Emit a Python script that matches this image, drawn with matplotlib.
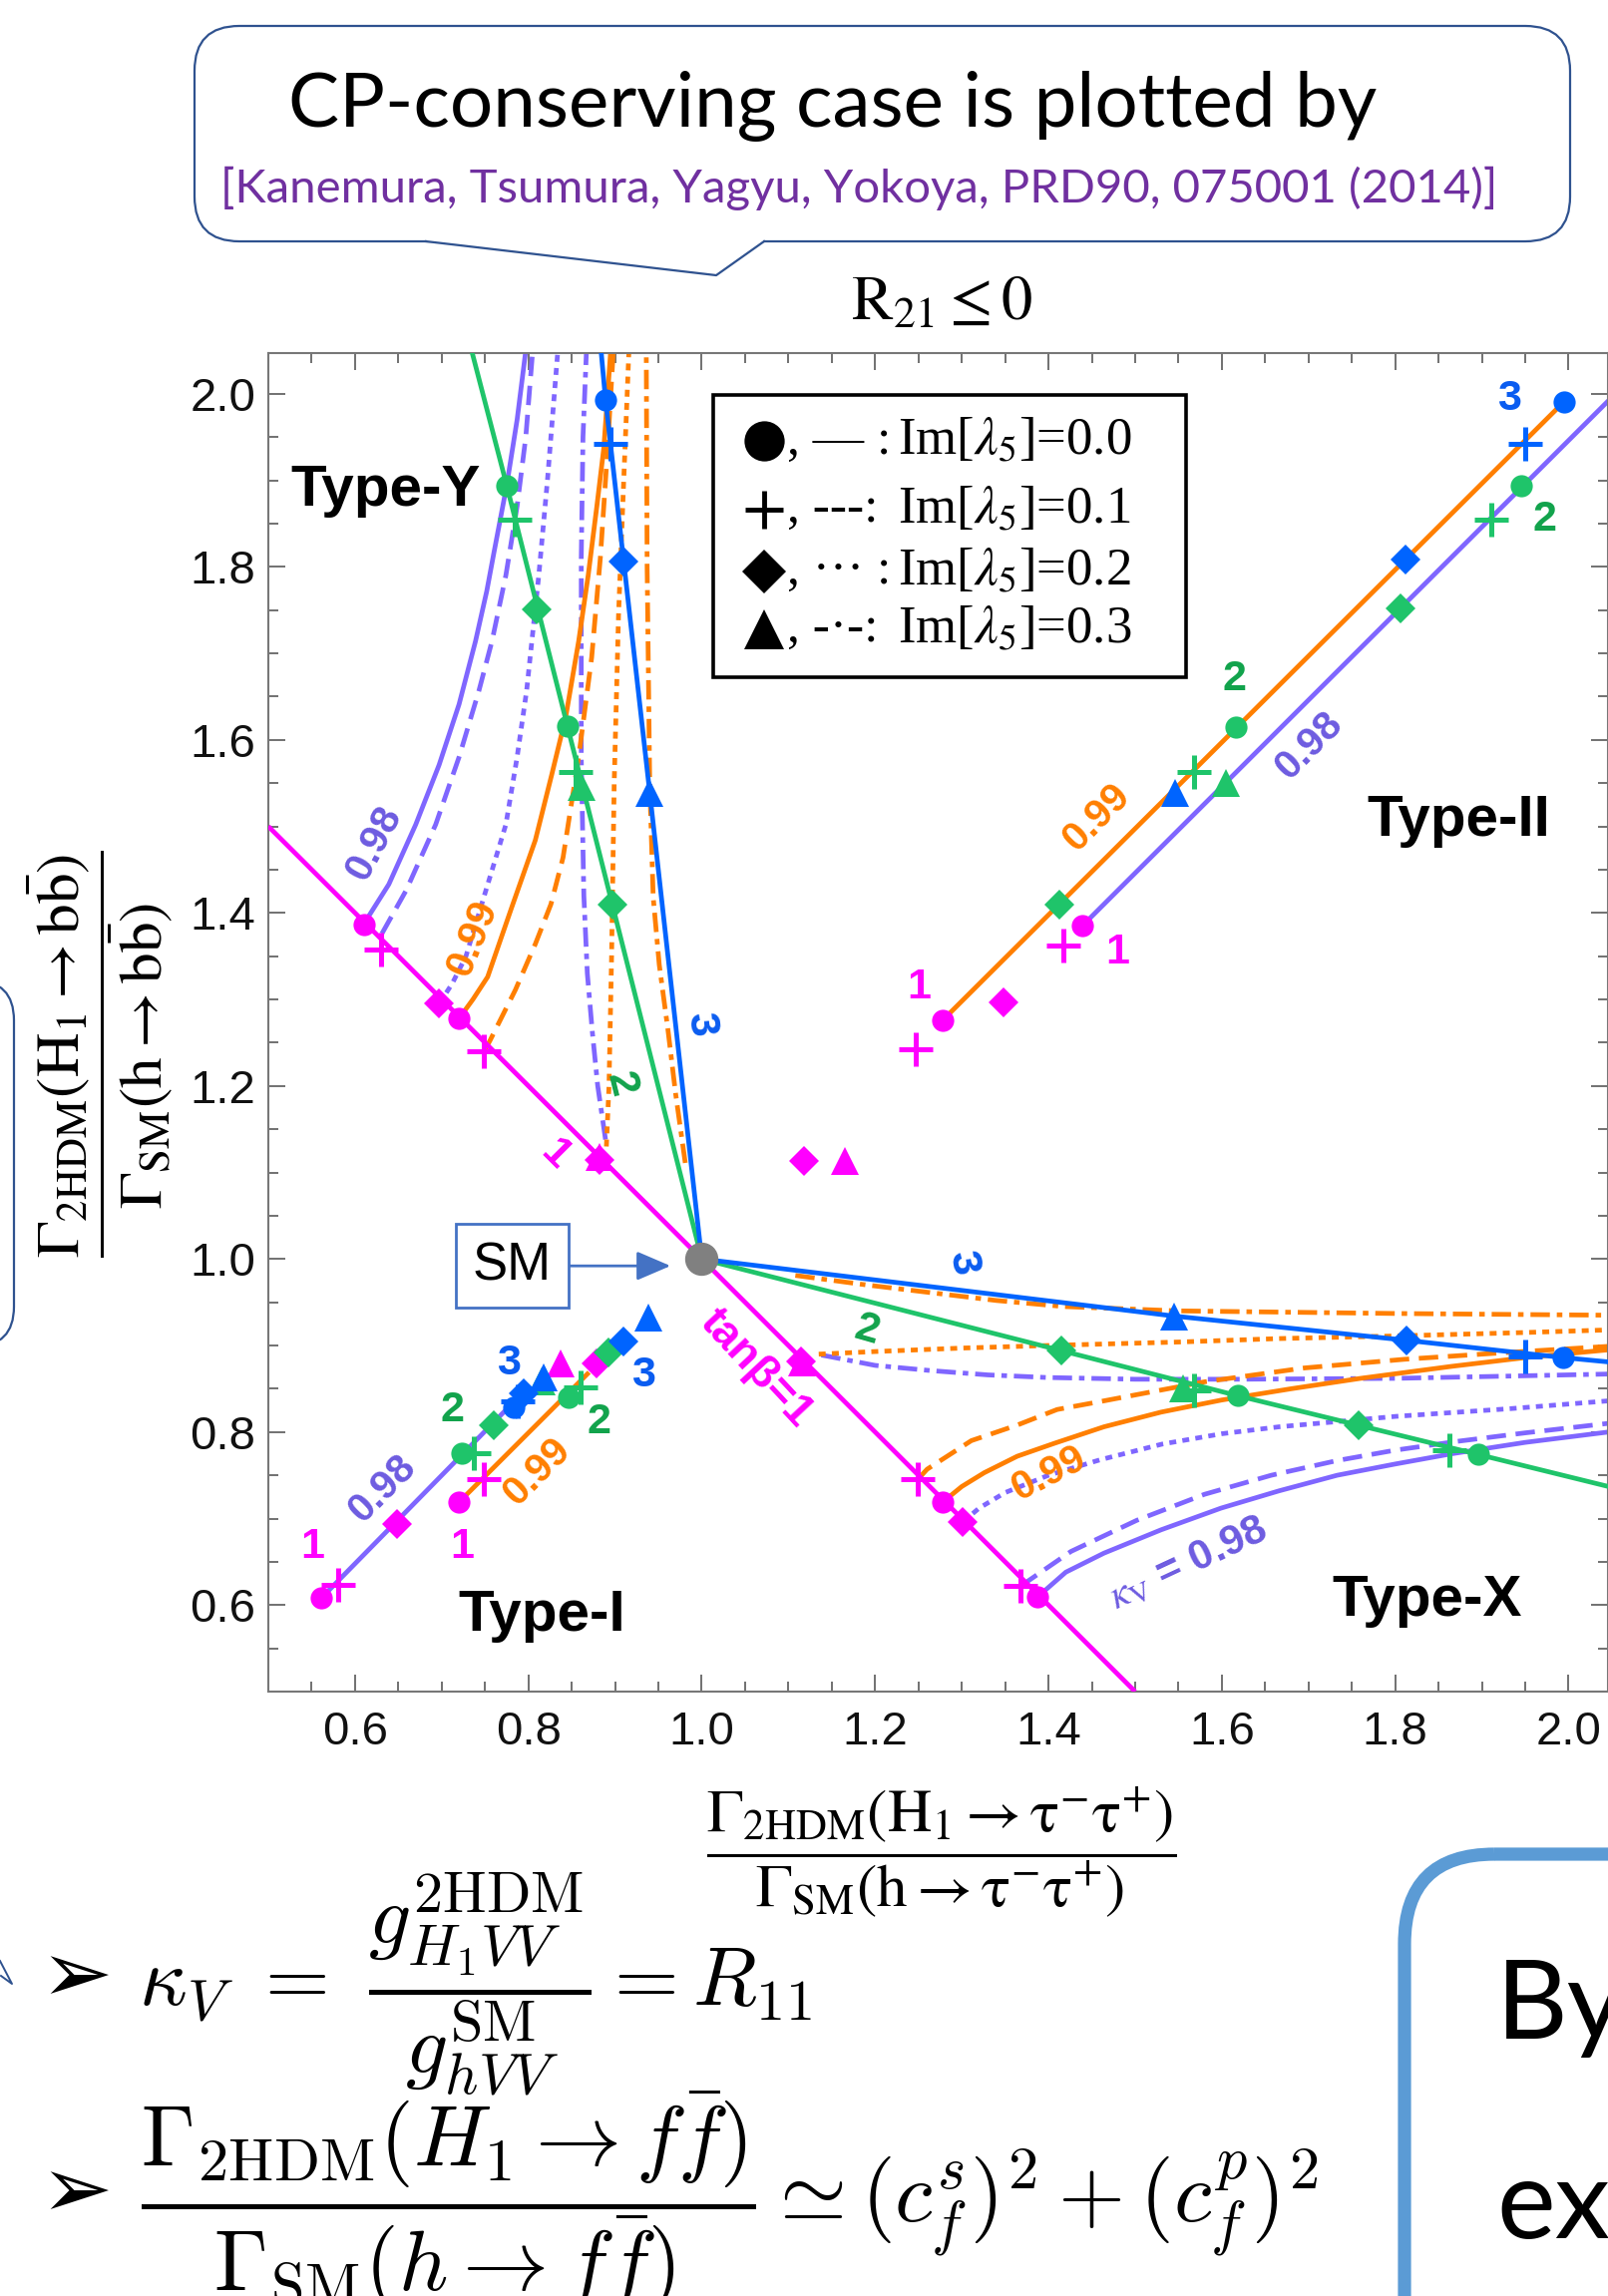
import matplotlib
matplotlib.use('Agg')
import matplotlib.pyplot as plt
from matplotlib.patches import FancyBboxPatch, Polygon, Rectangle
from matplotlib.ticker import MultipleLocator, FormatStrFormatter

plt.rcParams['font.family'] = ['Liberation Sans', 'DejaVu Sans']
plt.rcParams['mathtext.fontset'] = 'stix'
plt.rcParams['lines.scale_dashes'] = False

MAG = '#FF00FF'
PUR = '#7F66FF'
ORA = '#FF7F00'
GRN = '#1FC46A'
BLU = '#0064FF'
PUR_TXT = '#6D5BE0'
GRN_TXT = '#12A34C'
BLU_TXT = '#0A5CF0'

# ---- tan(beta)=1 line ----
tb1_x = [0.50, 1.00, 1.50]
tb1_y = [1.50, 1.00, 0.50]

# ---- Type-Y curves ----
ty98_solid_x = [0.610, 0.639, 0.670, 0.697, 0.720, 0.739, 0.752, 0.760, 0.775, 0.787, 0.797]
ty98_solid_y = [1.387, 1.433, 1.502, 1.571, 1.641, 1.714, 1.772, 1.815, 1.894, 1.970, 2.050]
ty98_dash_x = [0.631, 0.659, 0.693, 0.720, 0.743, 0.758, 0.774, 0.787, 0.797, 0.805]
ty98_dash_y = [1.376, 1.426, 1.502, 1.580, 1.657, 1.714, 1.790, 1.870, 1.950, 2.050]
ty98_dot_x = [0.697, 0.712, 0.728, 0.751, 0.774, 0.787, 0.798, 0.804, 0.812, 0.822, 0.834]
ty98_dot_y = [1.295, 1.318, 1.350, 1.426, 1.502, 1.580, 1.657, 1.714, 1.790, 1.900, 2.050]
ty98_dd_x = [0.889, 0.880, 0.874, 0.868, 0.864, 0.861, 0.861, 0.863, 0.867]
ty98_dd_y = [1.138, 1.200, 1.260, 1.330, 1.420, 1.580, 1.810, 1.950, 2.050]

ty99_solid_x = [0.720, 0.736, 0.753, 0.781, 0.808, 0.827, 0.843, 0.858, 0.869, 0.879, 0.887, 0.895]
ty99_solid_y = [1.278, 1.300, 1.326, 1.407, 1.484, 1.560, 1.626, 1.714, 1.790, 1.870, 1.937, 2.050]
ty99_dash_x = [0.749, 0.756, 0.785, 0.808, 0.826, 0.840, 0.858, 0.873, 0.883, 0.891, 0.898]
ty99_dash_y = [1.240, 1.253, 1.311, 1.364, 1.410, 1.464, 1.580, 1.695, 1.810, 1.930, 2.050]
ty99_dot_x = [0.890, 0.893, 0.896, 0.899, 0.904, 0.910, 0.916]
ty99_dot_y = [1.130, 1.200, 1.350, 1.550, 1.744, 1.900, 2.050]
ty99_dd_x = [0.981, 0.970, 0.961, 0.951, 0.944, 0.940, 0.937, 0.936]
ty99_dd_y = [1.111, 1.190, 1.265, 1.340, 1.418, 1.550, 1.800, 2.050]

ty_green_x = [1.000, 0.897, 0.845, 0.775, 0.735]
ty_green_y = [1.000, 1.409, 1.616, 1.894, 2.048]
ty_blue_x = [1.000, 0.940, 0.910, 0.889, 0.884]
ty_blue_y = [1.000, 1.539, 1.806, 1.993, 2.048]

# ---- Type-X curves ----
tx98_solid_x = [1.387, 1.420, 1.464, 1.530, 1.599, 1.666, 1.733, 1.800, 1.866, 1.950, 2.046]
tx98_solid_y = [0.609, 0.638, 0.660, 0.687, 0.712, 0.732, 0.750, 0.763, 0.775, 0.788, 0.800]
tx98_dash_x = [1.368, 1.426, 1.502, 1.580, 1.657, 1.733, 1.800, 1.870, 1.950, 2.046]
tx98_dash_y = [0.622, 0.662, 0.698, 0.728, 0.750, 0.767, 0.779, 0.789, 0.799, 0.810]
tx98_dot_x = [1.301, 1.320, 1.350, 1.400, 1.460, 1.531, 1.600, 1.666, 1.733, 1.800, 1.933, 2.046]
tx98_dot_y = [0.696, 0.712, 0.730, 0.750, 0.768, 0.786, 0.798, 0.806, 0.812, 0.818, 0.827, 0.836]
tx98_dd_x = [1.138, 1.200, 1.264, 1.330, 1.398, 1.500, 1.620, 1.800, 1.950, 2.046]
tx98_dd_y = [0.889, 0.877, 0.871, 0.866, 0.863, 0.861, 0.861, 0.862, 0.865, 0.867]

tx99_solid_x = [1.278, 1.300, 1.326, 1.364, 1.407, 1.464, 1.530, 1.600, 1.680, 1.760, 1.866, 1.950, 2.046]
tx99_solid_y = [0.719, 0.737, 0.753, 0.772, 0.787, 0.806, 0.823, 0.837, 0.850, 0.862, 0.876, 0.886, 0.895]
tx99_dash_x = [1.249, 1.260, 1.311, 1.364, 1.410, 1.464, 1.580, 1.695, 1.810, 1.930, 2.046]
tx99_dash_y = [0.745, 0.757, 0.790, 0.808, 0.826, 0.836, 0.858, 0.874, 0.884, 0.892, 0.899]
tx99_dot_x = [1.135, 1.200, 1.300, 1.400, 1.550, 1.666, 1.800, 1.950, 2.046]
tx99_dot_y = [0.890, 0.893, 0.897, 0.900, 0.904, 0.908, 0.911, 0.915, 0.918]
tx99_dd_x = [1.108, 1.190, 1.265, 1.340, 1.418, 1.550, 1.800, 2.046]
tx99_dd_y = [0.981, 0.970, 0.961, 0.952, 0.945, 0.940, 0.937, 0.935]

tx_green_x = [1.000, 1.415, 1.618, 1.896, 2.046]
tx_green_y = [1.000, 0.894, 0.842, 0.774, 0.737]
tx_blue_x = [1.000, 1.545, 1.813, 1.994, 2.046]
tx_blue_y = [1.000, 0.934, 0.906, 0.886, 0.881]

# ---- Type-I and Type-II lines ----
ti98_x = [0.561, 0.800]
ti98_y = [0.608, 0.852]
ti99_x = [0.720, 0.870]
ti99_y = [0.719, 0.869]
t298_x = [1.439, 2.046]
t298_y = [1.385, 1.992]
t299_x = [1.278, 1.995]
t299_y = [1.276, 1.991]

# ---- markers ----
mag_circle_x = [0.561, 0.720, 0.610, 0.720, 1.278, 1.387, 1.278, 1.439]
mag_circle_y = [0.608, 0.719, 1.387, 1.278, 0.719, 0.609, 1.276, 1.385]
mag_plus_x = [0.580, 0.749, 0.630, 0.749, 1.249, 1.368, 1.247, 1.417]
mag_plus_y = [0.623, 0.746, 1.358, 1.240, 0.745, 0.622, 1.242, 1.362]
mag_diamond_x = [0.649, 0.879, 0.697, 0.882, 1.301, 1.348, 1.118, 1.115]
mag_diamond_y = [0.694, 0.879, 1.295, 1.114, 0.696, 1.297, 1.113, 0.882]
mag_tri_x = [0.837, 0.882, 1.116, 1.165]
mag_tri_y = [0.879, 1.118, 0.880, 1.113]

grn_circle_x = [0.723, 0.846, 0.775, 0.845, 1.618, 1.896, 1.616, 1.945]
grn_circle_y = [0.775, 0.840, 1.894, 1.616, 0.842, 0.774, 1.615, 1.894]
grn_plus_x = [0.737, 0.860, 0.784, 0.855, 1.568, 1.862, 1.568, 1.911]
grn_plus_y = [0.776, 0.852, 1.855, 1.563, 0.848, 0.779, 1.563, 1.855]
grn_diamond_x = [0.760, 0.892, 0.810, 0.897, 1.415, 1.758, 1.413, 1.806]
grn_diamond_y = [0.808, 0.892, 1.751, 1.409, 0.894, 0.808, 1.409, 1.752]
grn_tri_x = [0.815, 0.861, 1.555, 1.605]
grn_tri_y = [0.858, 1.545, 0.850, 1.550]

blu_circle_x = [0.783, 0.889, 1.994, 1.995]
blu_circle_y = [0.828, 1.993, 0.886, 1.991]
blu_plus_x = [0.788, 0.895, 1.950, 1.950]
blu_plus_y = [0.836, 1.942, 0.887, 1.942]
blu_diamond_x = [0.795, 0.910, 0.910, 1.813, 1.812]
blu_diamond_y = [0.845, 0.905, 1.806, 0.906, 1.808]
blu_tri_x = [0.818, 0.938, 0.940, 1.545, 1.546]
blu_tri_y = [0.863, 0.932, 1.539, 0.934, 1.539]

# ---- labels: text, x, y, colour, rotation ----
num_labels = [
    ('1', 0.551, 0.667, MAG, 0), ('1', 0.723, 0.667, MAG, 0),
    ('1', 1.251, 1.314, MAG, 0), ('1', 1.480, 1.354, MAG, 0),
    ('1', 0.831, 1.121, MAG, -45),
    ('2', 0.712, 0.825, GRN_TXT, 0), ('2', 0.881, 0.811, GRN_TXT, 0),
    ('2', 1.614, 1.670, GRN_TXT, 0), ('2', 1.972, 1.855, GRN_TXT, 0),
    ('2', 0.906, 1.202, GRN_TXT, -76), ('2', 1.190, 0.918, GRN_TXT, -16),
    ('3', 0.777, 0.879, BLU_TXT, 0), ('3', 0.933, 0.865, BLU_TXT, 0),
    ('3', 1.932, 1.994, BLU_TXT, 0),
    ('3', 0.999, 1.272, BLU_TXT, -84), ('3', 1.301, 0.996, BLU_TXT, -80),
]
kv_labels = [
    ('0.98', 0.622, 1.481, PUR_TXT, 62), ('0.98', 0.632, 0.735, PUR_TXT, 45),
    ('0.98', 1.700, 1.593, PUR_TXT, 45),
    ('0.99', 0.736, 1.371, ORA, 68), ('0.99', 0.810, 0.754, ORA, 45),
    ('0.99', 1.456, 1.510, ORA, 45), ('0.99', 1.400, 0.752, ORA, 27),
]
type_labels = [('Type-Y', 0.635, 1.888), ('Type-II', 1.873, 1.506),
               ('Type-I', 0.815, 0.588), ('Type-X', 1.837, 0.605)]

legend_rows = [('o', ', \u2014 :', '0.0'), ('+', ', ---:', '0.1'),
               ('D', ', \u00b7\u00b7\u00b7 :', '0.2'), ('^', ', -\u00b7-:', '0.3')]

x_ticks = [0.6, 0.8, 1.0, 1.2, 1.4, 1.6, 1.8, 2.0]
y_ticks = [0.6, 0.8, 1.0, 1.2, 1.4, 1.6, 1.8, 2.0]

STYLES = {'solid': '-', 'dash': (0, (14, 7)), 'dot': (0, (5, 4.5)),
          'dashdot': (0, (14, 5, 4, 5))}

fig = plt.figure(figsize=(16.12, 23.02), dpi=100)

# slide decorations, pixel coordinates
deco = fig.add_axes([0, 0, 1, 1])
deco.set_xlim(0, 1612)
deco.set_ylim(2302, 0)
deco.axis('off')

EDGE = '#2F528F'
deco.add_patch(FancyBboxPatch((195, 26), 1379, 216, boxstyle='round,pad=0,rounding_size=45',
                              fc='white', ec=EDGE, lw=1.6, zorder=2))
deco.add_patch(Polygon([(428, 236), (428, 242), (718, 276), (765, 242), (765, 236)],
                       closed=True, fc='white', ec='none', zorder=3))
deco.plot([427, 718, 766], [242, 276, 242], color=EDGE, lw=1.6, zorder=4)
deco.text(835, 127, 'CP-conserving case is plotted by', fontsize=55, family='Lato',
          ha='center', va='baseline', zorder=5)
deco.text(861, 203, '[Kanemura, Tsumura, Yagyu, Yokoya, PRD90, 075001 (2014)]', fontsize=34,
          color='#7030A0', family='Lato', ha='center', va='baseline', zorder=5)

deco.add_patch(FancyBboxPatch((-300, 983), 314, 367, boxstyle='round,pad=0,rounding_size=40',
                              fc='none', ec=EDGE, lw=1.6))
deco.plot([0, 12, 1], [1966, 1989, 1981], color=EDGE, lw=1.4)

deco.add_patch(FancyBboxPatch((1408, 1859), 600, 800, boxstyle='round,pad=0,rounding_size=90',
                              fc='none', ec='#5B9BD5', lw=9.5))
deco.text(1500, 2044, 'By', fontsize=80, family='Lato', va='baseline')
deco.text(1500, 2244, 'ex', fontsize=80, family='Lato', va='baseline')

deco.text(944, 304, r'$\mathrm{R}_{21} \leq 0$', fontsize=45, ha='center', va='center')
deco.text(944, 1857, r'$\dfrac{\Gamma_{\rm 2HDM}(\rm H_1 \rightarrow \tau^{-}\tau^{+})}'
                     r'{\Gamma_{\rm SM}(\rm h \rightarrow \tau^{-}\tau^{+})}$',
          fontsize=44, ha='center', va='center')
deco.text(100, 1057, r'$\dfrac{\Gamma_{\rm 2HDM}(\rm H_1 \rightarrow b\bar{b})}'
                     r'{\Gamma_{\rm SM}(\rm h \rightarrow b\bar{b})}$',
          fontsize=44, ha='center', va='center', rotation=90)

deco.text(40, 1984, '\u27a2', fontsize=62, family='DejaVu Sans', va='center')
deco.text(139, 1990, r'$\kappa_V\ =\ \dfrac{g^{\rm 2HDM}_{H_1VV}}{g^{\rm SM}_{hVV}} = R_{11}$',
          fontsize=60, math_fontfamily='cm', va='center', ha='left')
deco.text(40, 2200, '\u27a2', fontsize=62, family='DejaVu Sans', va='center')
deco.text(141, 2208, r'$\dfrac{\Gamma_{\rm 2HDM}(H_1 \rightarrow f\bar{f})}'
                     r'{\Gamma_{\rm SM}(h \rightarrow f\bar{f})} \simeq (c^s_f)^2 + (c^p_f)^2$',
          fontsize=62, math_fontfamily='cm', va='center', ha='left')

# main plot
ax = fig.add_axes([269 / 1612, 1 - 1696 / 2302, 1 - 269 / 1612, (1696 - 354) / 2302])
ax.set_xlim(0.5, 2.0455)
ax.set_ylim(0.5, 2.047)
ax.set_xticks(x_ticks)
ax.set_yticks(y_ticks)
ax.xaxis.set_minor_locator(MultipleLocator(0.05))
ax.yaxis.set_minor_locator(MultipleLocator(0.05))
ax.xaxis.set_major_formatter(FormatStrFormatter('%.1f'))
ax.yaxis.set_major_formatter(FormatStrFormatter('%.1f'))
ax.tick_params(which='both', direction='in', top=True, right=True, color='#666666', width=1.3)
ax.tick_params(which='major', length=12, labelsize=34, labelcolor='#111111')
ax.tick_params(which='minor', length=7)
ax.tick_params(axis='x', pad=14)
ax.tick_params(axis='y', pad=9)
for sp in ax.spines.values():
    sp.set_color('#777777')
    sp.set_linewidth(1.5)


def curve(x, y, color, style, z=2):
    ax.plot(x, y, color=color, lw=3.4, linestyle=STYLES[style], solid_capstyle='butt',
            dash_capstyle='butt', zorder=z)


curve(tb1_x, tb1_y, MAG, 'solid', 3)

curve(ty98_solid_x, ty98_solid_y, PUR, 'solid')
curve(ty98_dash_x, ty98_dash_y, PUR, 'dash')
curve(ty98_dot_x, ty98_dot_y, PUR, 'dot')
curve(ty98_dd_x, ty98_dd_y, PUR, 'dashdot')
curve(ty99_solid_x, ty99_solid_y, ORA, 'solid')
curve(ty99_dash_x, ty99_dash_y, ORA, 'dash')
curve(ty99_dot_x, ty99_dot_y, ORA, 'dot')
curve(ty99_dd_x, ty99_dd_y, ORA, 'dashdot')

curve(tx98_solid_x, tx98_solid_y, PUR, 'solid')
curve(tx98_dash_x, tx98_dash_y, PUR, 'dash')
curve(tx98_dot_x, tx98_dot_y, PUR, 'dot')
curve(tx98_dd_x, tx98_dd_y, PUR, 'dashdot')
curve(tx99_solid_x, tx99_solid_y, ORA, 'solid')
curve(tx99_dash_x, tx99_dash_y, ORA, 'dash')
curve(tx99_dot_x, tx99_dot_y, ORA, 'dot')
curve(tx99_dd_x, tx99_dd_y, ORA, 'dashdot')

curve(ti98_x, ti98_y, PUR, 'solid')
curve(ti99_x, ti99_y, ORA, 'solid')
curve(t298_x, t298_y, PUR, 'solid')
curve(t299_x, t299_y, ORA, 'solid')

curve(ty_green_x, ty_green_y, GRN, 'solid', 3)
curve(ty_blue_x, ty_blue_y, BLU, 'solid', 3)
curve(tx_green_x, tx_green_y, GRN, 'solid', 3)
curve(tx_blue_x, tx_blue_y, BLU, 'solid', 3)


def marks(x, y, color, m):
    size = {'o': 16, '+': 25, 'D': 15, '^': 20}[m]
    ax.plot(x, y, ls='none', marker=m, ms=size, color=color, mew=3.6 if m == '+' else 0, zorder=5)


marks(mag_circle_x, mag_circle_y, MAG, 'o')
marks(mag_plus_x, mag_plus_y, MAG, '+')
marks(mag_diamond_x, mag_diamond_y, MAG, 'D')
marks(mag_tri_x, mag_tri_y, MAG, '^')
marks(grn_circle_x, grn_circle_y, GRN, 'o')
marks(grn_plus_x, grn_plus_y, GRN, '+')
marks(grn_diamond_x, grn_diamond_y, GRN, 'D')
marks(grn_tri_x, grn_tri_y, GRN, '^')
marks(blu_circle_x, blu_circle_y, BLU, 'o')
marks(blu_plus_x, blu_plus_y, BLU, '+')
marks(blu_diamond_x, blu_diamond_y, BLU, 'D')
marks(blu_tri_x, blu_tri_y, BLU, '^')

ax.plot([1.0], [1.0], marker='o', ms=23, color='#808080', ls='none', zorder=6)

for t, x, y, c, r in num_labels:
    ax.text(x, y, t, color=c, fontsize=31, fontweight='bold', rotation=r,
            ha='center', va='center', zorder=6)
for t, x, y, c, r in kv_labels:
    ax.text(x, y, t, color=c, fontsize=29, fontweight='bold', rotation=r,
            ha='center', va='center', rotation_mode='anchor', zorder=6)
ax.text(1.561, 0.647, r'$\kappa_{\rm V}$ = 0.98', color=PUR_TXT, fontsize=30, fontweight='bold',
        rotation=25, ha='center', va='center', rotation_mode='anchor', zorder=6)
ax.text(1.063, 0.873, 'tan\u03b2=1', color=MAG, fontsize=32, fontweight='bold', rotation=-47,
        ha='center', va='center', rotation_mode='anchor', zorder=6)
for t, x, y in type_labels:
    ax.text(x, y, t, color='black', fontsize=42, fontweight='bold', ha='center', va='center',
            zorder=6)

ax.annotate('SM', xy=(0.964, 0.992), xytext=(0.781, 0.992), fontsize=38, ha='center',
            va='center', zorder=7,
            bbox=dict(boxstyle='square,pad=0.32', fc='white', ec='#4472C4', lw=2),
            arrowprops=dict(arrowstyle='-|>,head_length=0.7,head_width=0.3', color='#4472C4',
                            lw=2, shrinkA=0, shrinkB=0, mutation_scale=30))

# legend box
ax.add_patch(Rectangle((1.013, 1.672), 0.546, 0.327, fc='white', ec='black', lw=2.6, zorder=7))
legend_y = [1.945, 1.866, 1.795, 1.728]
legend_ms = {'o': 29, '+': 27, 'D': 22, '^': 29}
for (m, pre, val), ly in zip(legend_rows, legend_y):
    ax.plot([1.072], [ly], marker=m, ms=legend_ms[m], color='black', ls='none',
            mew=3.5 if m == '+' else 0, zorder=8)
    ax.text(1.098, ly, pre, fontsize=37, family=['Liberation Serif', 'DejaVu Serif'],
            ha='left', va='center', zorder=8)
    ax.text(1.226, ly, r'Im[$\lambda_5$]=' + val, fontsize=38,
            family=['Liberation Serif', 'DejaVu Serif'], ha='left', va='center', zorder=8)

fig.savefig('out.png', dpi=100)
